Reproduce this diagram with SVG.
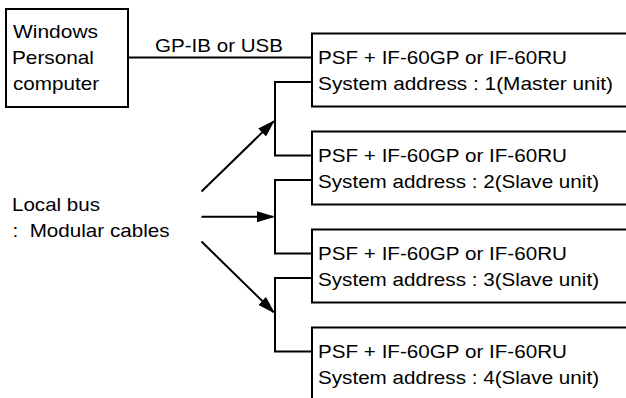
<svg xmlns="http://www.w3.org/2000/svg" width="626" height="398" viewBox="0 0 626 398">
<style>
text{font-family:"Liberation Sans",Arial,sans-serif;font-size:19px;fill:#000;white-space:pre}
.box{fill:#fff;stroke:#000;stroke-width:2}
.ln{fill:none;stroke:#000;stroke-width:2}
</style>
<defs>
<marker id="ah" markerUnits="userSpaceOnUse" markerWidth="18" markerHeight="11" refX="16" refY="5.5" orient="auto">
<path d="M0,0 L18,5.5 L0,11 Z" fill="#000"/>
</marker>
</defs>
<rect width="626" height="398" fill="#fff"/>
<g id="pc">
<rect class="box" x="6" y="9" width="122" height="98"/>
<text x="13" y="38" textLength="85" lengthAdjust="spacingAndGlyphs">Windows</text>
<text x="12" y="64" textLength="82" lengthAdjust="spacingAndGlyphs">Personal</text>
<text x="13" y="90" textLength="86" lengthAdjust="spacingAndGlyphs">computer</text>
</g>
<g id="unit1">
<rect class="box" x="312" y="33.5" width="330" height="73"/>
<text x="318" y="64" textLength="249" lengthAdjust="spacingAndGlyphs">PSF + IF-60GP or IF-60RU</text>
<text x="318" y="89.5" textLength="295" lengthAdjust="spacingAndGlyphs">System address : 1(Master unit)</text>
</g>
<g id="unit2">
<rect class="box" x="312" y="131.5" width="330" height="73"/>
<text x="318" y="162" textLength="249" lengthAdjust="spacingAndGlyphs">PSF + IF-60GP or IF-60RU</text>
<text x="318" y="187.5" textLength="281" lengthAdjust="spacingAndGlyphs">System address : 2(Slave unit)</text>
</g>
<g id="unit3">
<rect class="box" x="312" y="229.5" width="330" height="73"/>
<text x="318" y="260" textLength="249" lengthAdjust="spacingAndGlyphs">PSF + IF-60GP or IF-60RU</text>
<text x="318" y="285.5" textLength="281" lengthAdjust="spacingAndGlyphs">System address : 3(Slave unit)</text>
</g>
<g id="unit4">
<rect class="box" x="312" y="327.5" width="330" height="80"/>
<text x="318" y="358" textLength="249" lengthAdjust="spacingAndGlyphs">PSF + IF-60GP or IF-60RU</text>
<text x="318" y="383.5" textLength="281" lengthAdjust="spacingAndGlyphs">System address : 4(Slave unit)</text>
</g>
<g id="localbus">
<text x="12" y="211" textLength="88" lengthAdjust="spacingAndGlyphs">Local bus</text>
<text x="12.5" y="236.5" textLength="157" lengthAdjust="spacingAndGlyphs">:  Modular cables</text>
</g>
<g id="connectors">
<line class="ln" x1="128" y1="57.5" x2="312" y2="57.5"/>
<text x="155" y="52" textLength="128" lengthAdjust="spacingAndGlyphs">GP-IB or USB</text>
<path class="ln" d="M312,82 H275 V155.5 H312"/>
<path class="ln" d="M312,180 H275 V253.5 H312"/>
<path class="ln" d="M312,278 H275 V351.5 H312"/>
<line class="ln" x1="201.5" y1="191.5" x2="273.57" y2="121.4" marker-end="url(#ah)"/>
<line class="ln" x1="201.5" y1="216.75" x2="273" y2="216.75" marker-end="url(#ah)"/>
<line class="ln" x1="201.5" y1="241.5" x2="273.57" y2="312.1" marker-end="url(#ah)"/>
</g>
</svg>
